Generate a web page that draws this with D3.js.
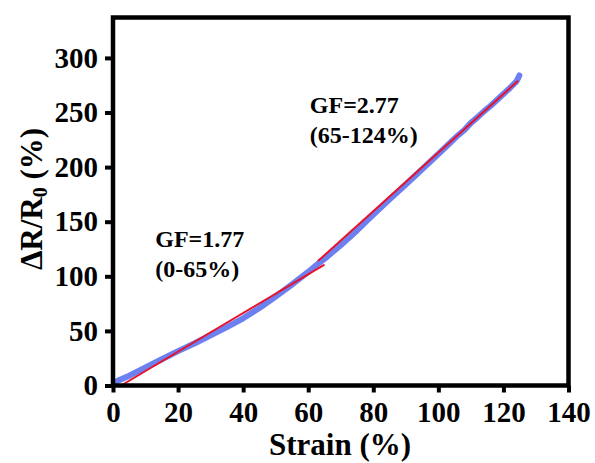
<!DOCTYPE html>
<head>
<meta charset="utf-8">
<style>
  body { margin: 0; background: white; }
  svg { font-family: 'Liberation Serif', 'Times New Roman', serif; font-weight: bold; }
  .axis text { font-family: 'Liberation Serif', 'Times New Roman', serif; font-size: 29px; font-weight: bold; fill: #000; }
  .axis line { stroke: #000; stroke-width: 4; }
  .label { font-size: 31px; }
  .note { font-size: 24px; }
</style>
</head>
<body>
<script src="https://d3js.org/d3.v7.min.js"></script>
<script>
// measured data (strain %, dR/R0 %)
var measured = [
  [0.3, 2.5], [2, 5], [5, 9], [10, 16.5], [15, 24], [20, 31.5], [25, 38.5],
  [30, 46], [35, 53.5], [40, 61.5], [45, 71], [50, 81.5], [55, 92.5],
  [60, 104], [63, 111.5], [65, 116], [70, 128.5], [75, 142], [80, 156.5],
  [85, 170.5], [90, 184], [95, 198], [100, 212], [103, 220.5], [106, 229],
  [108, 234], [110, 240.5], [112, 245.5], [114, 251], [116, 256], [118, 261.5],
  [120, 267], [122, 272.5], [124, 278.5], [124.6, 282], [124.9, 284]
];
// linear fits
var fitLow = [[2.5, 0], [65, 110.6]];
var fitHigh = [[63, 114], [124.5, 279]];

var xTicks = [0, 20, 40, 60, 80, 100, 120, 140];
var yTicks = [0, 50, 100, 150, 200, 250, 300];

var notes = [
  {x: 13, y: 127, lines: ['GF=1.77', '(0-65%)']},
  {x: 60.5, y: 249.5, lines: ['GF=2.77', '(65-124%)']}
];

var width = 595, height = 463;
var margin = {top: 17.5, right: 26.5, bottom: 77.5, left: 113};

var svg = d3.select('body').append('svg')
  .attr('width', width)
  .attr('height', height);

var x = d3.scaleLinear([0, 140], [margin.left, width - margin.right]);
var y = d3.scaleLinear([0, 337], [height - margin.bottom, margin.top]);

var line = d3.line().x(d => x(d[0])).y(d => y(d[1]));

// axes
var xAxisG = svg.append('g')
  .attr('class', 'axis')
  .attr('transform', `translate(0,${y(0)})`)
  .call(d3.axisBottom(x).tickValues(xTicks).tickSize(7).tickPadding(9).tickSizeOuter(0));
xAxisG.select('.domain').remove();

var yAxisG = svg.append('g')
  .attr('class', 'axis')
  .attr('transform', `translate(${x(0)},0)`)
  .call(d3.axisLeft(y).tickValues(yTicks).tickSize(8).tickPadding(7).tickSizeOuter(0));
yAxisG.select('.domain').remove();

// data
svg.append('path')
  .datum(measured)
  .attr('d', line)
  .attr('fill', 'none')
  .attr('stroke', '#6d80f0')
  .attr('stroke-width', 6)
  .attr('stroke-linecap', 'round')
  .attr('stroke-linejoin', 'round');

[fitLow, fitHigh].forEach(function(f) {
  svg.append('path')
    .datum(f)
    .attr('d', line)
    .attr('fill', 'none')
    .attr('stroke', '#e8132b')
    .attr('stroke-width', 2);
});

// frame
svg.append('rect')
  .attr('x', x(0))
  .attr('y', y(337))
  .attr('width', x(140) - x(0))
  .attr('height', y(0) - y(337))
  .attr('fill', 'none')
  .attr('stroke', '#000')
  .attr('stroke-width', 4.5);

// annotations
notes.forEach(function(n) {
  var t = svg.append('text')
    .attr('class', 'note')
    .attr('x', x(n.x))
    .attr('y', y(n.y));
  n.lines.forEach(function(s, i) {
    t.append('tspan')
      .attr('x', x(n.x))
      .attr('dy', i === 0 ? 0 : 30)
      .text(s);
  });
});

// axis labels
svg.append('text')
  .attr('class', 'label')
  .attr('x', 340)
  .attr('y', 455)
  .attr('text-anchor', 'middle')
  .text('Strain (%)');

var yl = svg.append('text')
  .attr('class', 'label')
  .attr('transform', 'translate(42,199) rotate(-90)')
  .attr('text-anchor', 'middle');
yl.append('tspan').text('ΔR/R');
yl.append('tspan').attr('font-size', 20).attr('dy', 5).text('0');
yl.append('tspan').attr('dy', -5).text(' (%)');
</script>
</body>
